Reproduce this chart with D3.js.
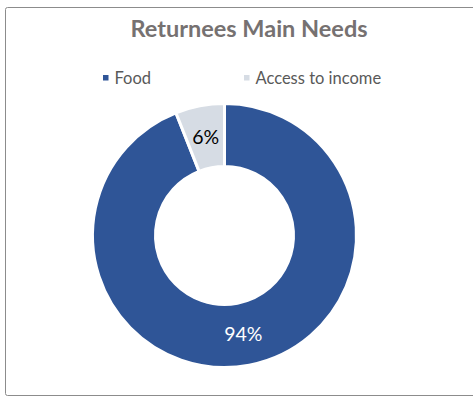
<!DOCTYPE html>
<html>
<head>
<meta charset="utf-8">
<script src="https://cdn.jsdelivr.net/npm/d3@7"></script>
<style>
html,body{margin:0;padding:0;background:#fff;}
svg{display:block;}
text{font-family:Lato, "Open Sans", sans-serif;}
</style>
</head>
<body>
<svg id="chart" width="473" height="398"></svg>
<script>
const categories = ["Food", "Access to income"];
const values = [94, 6];
const labels = ["94%", "6%"];
const colors = ["#2F5597", "#D6DCE4"];
const labelColors = ["#ffffff", "#000000"];
const title = "Returnees Main Needs";

const svg = d3.select("#chart");

svg.append("rect").attr("x", 5.5).attr("y", 7.5).attr("width", 475).attr("height", 388)
  .attr("rx", 2).attr("fill", "#fff").attr("stroke", "#8c8c8c").attr("stroke-width", 1);

svg.append("text").attr("x", 249).attr("y", 37).attr("text-anchor", "middle")
  .attr("font-size", 23.5).attr("font-weight", "bold").attr("fill", "#767171").text(title);

// legend
const legendX = [103, 244];
const lg = svg.append("g");
categories.forEach((c, i) => {
  lg.append("rect").attr("x", legendX[i]).attr("y", 75).attr("width", 5.5).attr("height", 5.5).attr("fill", colors[i]);
  lg.append("text").attr("x", legendX[i] + 11.5).attr("y", 83.5).attr("font-size", 16.5).attr("fill", "#595959").text(c);
});

const cx = 224.5, cy = 235.5, R = 132, r = 69;
const pie = d3.pie().sort(null).value(d => d)(values);
const arc = d3.arc().innerRadius(r).outerRadius(R);
const labelArc = d3.arc().innerRadius((R + r) / 2).outerRadius((R + r) / 2);
const g = svg.append("g").attr("transform", `translate(${cx},${cy})`);
g.selectAll("path").data(pie).join("path")
  .attr("d", arc).attr("fill", (d, i) => colors[i])
  .attr("stroke", "#fff").attr("stroke-width", 3);
g.selectAll("text.lbl").data(pie).join("text").attr("class", "lbl")
  .attr("transform", d => `translate(${labelArc.centroid(d)})`)
  .attr("text-anchor", "middle").attr("dy", "0.35em")
  .attr("font-size", 19.5).attr("fill", (d, i) => labelColors[i])
  .text((d, i) => labels[i]);
</script>
</body>
</html>
